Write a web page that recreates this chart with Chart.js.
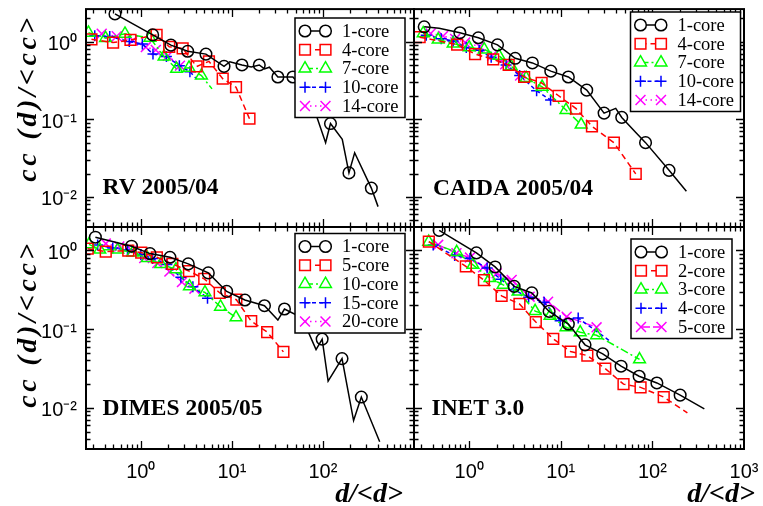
<!DOCTYPE html>
<html><head><meta charset="utf-8">
<script src="https://cdn.jsdelivr.net/npm/chart.js@4.4.1/dist/chart.umd.min.js"></script>
<style>
html,body{margin:0;padding:0;background:#fff;}
#wrap{position:relative;width:763px;height:506px;overflow:hidden;}
canvas{position:absolute;left:0;top:0;}
</style></head><body>
<div id="wrap">
<canvas id="p0" width="763" height="506"></canvas>
<canvas id="p1" width="763" height="506"></canvas>
<canvas id="p2" width="763" height="506"></canvas>
<canvas id="p3" width="763" height="506"></canvas>
</div>
<script>
// ---------------- tick labels ----------------
const X_TICK_VALUES = [1, 10, 100, 1000];
const X_TICK_LABELS = ['10\u2070', '10\u00B9', '10\u00B2', '10\u00B3'];
const Y_TICK_VALUES = [0.01, 0.1, 1];
const Y_TICK_LABELS = ['10\u207B\u00B2', '10\u207B\u00B9', '10\u2070'];

// ---------------- RV 2005/04 ----------------
const rvNames = ['1-core', '4-core', '7-core', '10-core', '14-core'];
const rv1X = [0.52, 1.35, 2.14, 3.27, 5.19, 8.2, 9.5, 12.9, 16.3, 20.0, 22.8, 25.8, 32.0, 46.8, 72, 107, 121, 163, 193, 223, 340, 403];
const rv1Y = [2.27, 1.22, 0.90, 0.75, 0.69, 0.48, 0.55, 0.50, 0.47, 0.50, 0.445, 0.468, 0.35, 0.35, 0.195, 0.050, 0.088, 0.055, 0.0204, 0.037, 0.013, 0.0075];
const rv1Sym = [1,1,1,1,1,1,0,1,0,1,0,0,1,1,1,0,1,0,1,0,1,0];
const rv4X = [0.287, 0.496, 0.77, 1.49, 2.05, 2.88, 4.10, 5.6, 7.93, 11.1, 15.6];
const rv4Y = [1.07, 0.97, 1.05, 1.22, 0.857, 0.82, 0.478, 0.557, 0.333, 0.259, 0.1016];
const rv7X = [0.266, 0.41, 0.67, 1.26, 1.80, 2.47, 3.38, 4.63, 6.05];
const rv7Y = [1.30, 1.11, 1.26, 1.12, 0.64, 0.445, 0.46, 0.365, 0.246];
const rv7Sym = [1,1,1,1,1,1,1,1,0];
const rv10X = [0.312, 0.456, 0.747, 1.04, 1.36, 1.91, 2.65, 3.46, 4.1];
const rv10Y = [1.19, 1.16, 1.0, 0.93, 0.69, 0.645, 0.49, 0.41, 0.33];
const rv10Sym = [1,1,1,1,1,1,1,1,0];
const rv14X = [0.372, 0.544, 0.817, 1.135, 1.46, 1.98, 2.69];
const rv14Y = [1.26, 1.17, 1.03, 0.85, 0.78, 0.655, 0.49];

// ---------------- CAIDA 2005/04 ----------------
const caNames = ['1-core', '4-core', '7-core', '10-core', '14-core'];
const ca1X = [0.323, 0.47, 0.792, 1.26, 2.04, 3.18, 4.90, 7.78, 12.1, 19.2, 29.7, 39.8, 46.3, 66.3, 84.2, 152, 235];
const ca1Y = [1.55, 1.48, 1.30, 1.12, 0.908, 0.609, 0.531, 0.416, 0.35, 0.237, 0.120, 0.138, 0.1056, 0.067, 0.050, 0.022, 0.0118];
const ca1Sym = [1,0,1,1,1,1,1,1,1,1,1,0,1,0,1,1,0];
const ca4X = [0.288, 0.74, 1.16, 1.83, 2.70, 3.98, 6.18, 9.47, 14.7, 21.9, 38.0, 65.8];
const ca4Y = [1.14, 0.916, 0.69, 0.59, 0.50, 0.35, 0.293, 0.2006, 0.137, 0.081, 0.0499, 0.0198];
const ca7X = [0.315, 0.459, 0.669, 1.0, 1.46, 2.12, 2.87, 4.19, 6.26, 11.4, 16.7];
const ca7Y = [1.28, 1.06, 0.943, 0.84, 0.79, 0.655, 0.482, 0.34, 0.261, 0.1315, 0.0853];
const ca10X = [0.34, 0.495, 0.669, 0.93, 1.29, 1.74, 2.53, 3.56, 5.45, 7.74];
const ca10Y = [1.21, 1.09, 1.02, 0.84, 0.776, 0.627, 0.50, 0.367, 0.232, 0.177];
const ca14X = [0.38, 0.52, 0.703, 0.904, 1.30, 1.78, 2.47, 3.60];
const ca14Y = [1.27, 1.18, 1.08, 0.971, 0.865, 0.659, 0.51, 0.365];

// ---------------- DIMES 2005/05 ----------------
const diNames = ['1-core', '5-core', '10-core', '15-core', '20-core'];
const di1X = [0.317, 0.79, 1.26, 2.09, 3.32, 5.51, 8.77, 13.9, 22.8, 32.0, 37.8, 59, 84, 98, 114, 162, 217, 264, 420];
const di1Y = [1.47, 1.13, 0.91, 0.817, 0.673, 0.517, 0.301, 0.234, 0.198, 0.130, 0.180, 0.139, 0.055, 0.0746, 0.0219, 0.0422, 0.0069, 0.0137, 0.0037];
const di1Sym = [1,1,1,1,1,1,1,1,1,0,1,1,0,1,0,1,0,1,0];
const di5X = [0.261, 0.412, 0.728, 1.01, 1.50, 2.22, 3.38, 4.97, 7.35, 11.2, 16.3, 24.4, 36.8];
const di5Y = [1.05, 0.965, 0.99, 0.937, 0.817, 0.673, 0.545, 0.435, 0.288, 0.236, 0.126, 0.0918, 0.0514];
const di10X = [0.27, 0.354, 0.558, 0.817, 1.18, 1.66, 2.43, 3.42, 5.06, 7.50, 11.1];
const di10Y = [1.19, 1.02, 1.02, 0.937, 0.798, 0.669, 0.573, 0.348, 0.292, 0.192, 0.1406];
const di15X = [0.336, 0.492, 0.714, 1.0, 1.35, 1.93, 2.75, 3.73, 5.40];
const di15Y = [1.17, 1.07, 1.01, 0.884, 0.79, 0.66, 0.454, 0.346, 0.247];
const di20X = [0.412, 0.58, 0.796, 1.09, 1.52, 2.06, 2.83, 3.88];
const di20Y = [1.22, 1.12, 0.994, 0.798, 0.689, 0.537, 0.395, 0.326];

// ---------------- INET 3.0 ----------------
const inNames = ['1-core', '2-core', '3-core', '4-core', '5-core'];
const in1X = [0.471, 1.20, 1.92, 3.10, 4.83, 7.46, 12.1, 18.4, 28.7, 45.5, 71.6, 112, 201, 369];
const in1Y = [1.79, 0.93, 0.616, 0.349, 0.288, 0.1677, 0.116, 0.0631, 0.0485, 0.0338, 0.0252, 0.0207, 0.0145, 0.0097];
const in1Sym = [1,1,1,1,1,1,1,1,1,1,1,1,1,0];
const in2X = [0.363, 0.92, 1.45, 2.26, 3.54, 5.34, 8.28, 12.8, 19.5, 30.6, 48.4, 74.3, 133, 241];
const in2Y = [1.29, 0.625, 0.418, 0.264, 0.209, 0.123, 0.0752, 0.0518, 0.0461, 0.0315, 0.020, 0.0182, 0.0137, 0.0086];
const in2Sym = [1,1,1,1,1,1,1,1,1,1,1,1,1,0];
const in3X = [0.362, 0.731, 1.10, 1.69, 2.35, 3.42, 5.25, 7.65, 11.4, 16.3, 24.6, 72.4];
const in3Y = [1.28, 0.951, 0.654, 0.444, 0.365, 0.299, 0.169, 0.1476, 0.1054, 0.091, 0.0834, 0.0412];
const in4X = [0.405, 0.695, 1.02, 1.57, 2.21, 3.06, 4.46, 6.58, 9.84, 15.5, 35.4];
const in4Y = [1.17, 0.859, 0.787, 0.595, 0.431, 0.317, 0.254, 0.219, 0.1276, 0.138, 0.0689];
const in4Sym = [1,1,1,1,1,1,1,1,1,1,0];
const in5X = [0.459, 0.727, 1.02, 1.42, 2.0, 2.91, 4.57, 7.27, 11.6, 24.6];
const in5Y = [1.175, 0.918, 0.81, 0.609, 0.511, 0.422, 0.258, 0.223, 0.1435, 0.1054];

// ---------------- styles ----------------
const ST = {
  k:  {color:'#000000', point:'circle',   r:5.8, dash:[]},
  r:  {color:'#ff0000', point:'rect',     r:7.6, dash:[6,4]},
  g:  {color:'#00ff00', point:'triangle', r:6.8, dash:[8,3,2,3]},
  b:  {color:'#0000ff', point:'cross',    r:5.5, dash:[4,3]},
  m:  {color:'#ff00ff', point:'crossRot', r:7.0, dash:[1.5,3.5]},
  mL: {color:'#ff00ff', point:'crossRot', r:7.0, dash:[9,3]}
};
const SERIF = '"Liberation Serif", "Times New Roman", serif';
const SANS = '"Liberation Sans", Arial, sans-serif';

function series(name, xs, ys, sym, st) {
  return {
    label: name,
    data: xs.map((x, i) => ({x: x, y: ys[i]})),
    borderColor: st.color, backgroundColor: 'rgba(0,0,0,0)',
    borderWidth: 1.5, borderDash: st.dash, tension: 0, fill: false,
    pointStyle: st.point,
    pointRadius: xs.map((_, i) => (sym ? sym[i] : 1) ? st.r : 0),
    pointHoverRadius: xs.map((_, i) => (sym ? sym[i] : 1) ? st.r : 0),
    pointBorderColor: st.color, pointBackgroundColor: 'rgba(0,0,0,0)',
    pointBorderWidth: 1.5, _st: st
  };
}

const PANELS = {
  p0: {area:{l:86,t:6,r:414,b:227}, yr:[0.0041,2.62], xLab:false, yLab:true, xMaxLab:100,
       legend:{x:295,y:18,w:110,h:99.5}, label:'RV 2005/04', labelPos:[102.5,193.5], yTitle:98, xTitle:null,
       ds:[series(rvNames[0],rv1X,rv1Y,rv1Sym,ST.k), series(rvNames[1],rv4X,rv4Y,null,ST.r), series(rvNames[2],rv7X,rv7Y,rv7Sym,ST.g), series(rvNames[3],rv10X,rv10Y,rv10Sym,ST.b), series(rvNames[4],rv14X,rv14Y,null,ST.m)]},
  p1: {area:{l:414,t:6,r:744,b:227}, yr:[0.0041,2.62], xLab:false, yLab:false, xMaxLab:1000,
       legend:{x:630.5,y:12,w:110,h:99.5}, label:'CAIDA 2005/04', labelPos:[433,194.5], yTitle:null, xTitle:null,
       ds:[series(caNames[0],ca1X,ca1Y,ca1Sym,ST.k), series(caNames[1],ca4X,ca4Y,null,ST.r), series(caNames[2],ca7X,ca7Y,null,ST.g), series(caNames[3],ca10X,ca10Y,null,ST.b), series(caNames[4],ca14X,ca14Y,null,ST.m)]},
  p2: {area:{l:86,t:227,r:414,b:449}, yr:[0.003,1.98], xLab:true, yLab:true, xMaxLab:100,
       legend:{x:295,y:233.5,w:110,h:99.5}, label:'DIMES 2005/05', labelPos:[102.5,414.5], yTitle:324, xTitle:403,
       ds:[series(diNames[0],di1X,di1Y,di1Sym,ST.k), series(diNames[1],di5X,di5Y,null,ST.r), series(diNames[2],di10X,di10Y,null,ST.g), series(diNames[3],di15X,di15Y,null,ST.b), series(diNames[4],di20X,di20Y,null,ST.m)]},
  p3: {area:{l:414,t:227,r:744,b:449}, yr:[0.003,1.98], xLab:true, yLab:false, xMaxLab:1000,
       legend:{x:631,y:239,w:101,h:99.5}, label:'INET 3.0', labelPos:[431.5,414.5], yTitle:null, xTitle:755,
       ds:[series(inNames[0],in1X,in1Y,in1Sym,ST.k), series(inNames[1],in2X,in2Y,in2Sym,ST.r), series(inNames[2],in3X,in3Y,null,ST.g), series(inNames[3],in4X,in4Y,in4Sym,ST.b), series(inNames[4],in5X,in5Y,null,ST.mL)]}
};

const panelPlugin = {
  id: 'panelDecor',
  afterDatasetsDraw(chart) {
    const P = PANELS[chart.canvas.id];
    const ctx = chart.ctx, a = chart.chartArea, xs = chart.scales.x, ys = chart.scales.y;
    ctx.save();
    ctx.setLineDash([]);
    ctx.strokeStyle = '#000'; ctx.lineWidth = 1.3;
    ctx.beginPath();
    for (let e = -1; e <= 3; e++) for (let m = 1; m <= 9; m++) {
      const v = m * Math.pow(10, e);
      if (v > xs.min * 1.0001 && v < xs.max * 0.9999) {
        const px = Math.round(xs.getPixelForValue(v)) + 0.5, len = m === 1 ? 8 : 4.5;
        ctx.moveTo(px, a.top); ctx.lineTo(px, a.top + len);
        ctx.moveTo(px, a.bottom); ctx.lineTo(px, a.bottom - len);
      }
    }
    for (let e = -3; e <= 1; e++) for (let m = 1; m <= 9; m++) {
      const v = m * Math.pow(10, e);
      if (v > ys.min * 1.0001 && v < ys.max * 0.9999) {
        const py = Math.round(ys.getPixelForValue(v)) + 0.5, len = m === 1 ? 8 : 4.5;
        ctx.moveTo(a.left, py); ctx.lineTo(a.left + len, py);
        ctx.moveTo(a.right, py); ctx.lineTo(a.right - len, py);
      }
    }
    ctx.stroke();
    ctx.lineWidth = 2;
    ctx.strokeRect(a.left, a.top, a.right - a.left, a.bottom - a.top);

    // legend
    const L = P.legend;
    ctx.fillStyle = '#fff'; ctx.fillRect(L.x, L.y, L.w, L.h);
    ctx.strokeStyle = '#000'; ctx.lineWidth = 1.5; ctx.strokeRect(L.x, L.y, L.w, L.h);
    chart.data.datasets.forEach((d, i) => {
      const st = d._st, cy = L.y + 13 + i * 18.75, x1 = L.x + 10, x2 = L.x + 30.5;
      ctx.strokeStyle = st.color; ctx.lineWidth = 1.5; ctx.setLineDash(st.dash);
      ctx.beginPath(); ctx.moveTo(x1, cy); ctx.lineTo(x2, cy); ctx.stroke();
      ctx.setLineDash([]);
      ctx.fillStyle = '#fff';
      [x1, x2].forEach(px => Chart.helpers.drawPoint(ctx, {pointStyle: st.point, radius: st.r, rotation: 0, borderWidth: 1.5}, px, cy));
      ctx.fillStyle = '#000'; ctx.font = '18.5px ' + SERIF; ctx.textBaseline = 'middle'; ctx.textAlign = 'left';
      ctx.fillText(d.label, L.x + 47, cy + 1);
    });

    // panel label
    ctx.fillStyle = '#000'; ctx.textBaseline = 'alphabetic'; ctx.textAlign = 'left';
    ctx.font = 'bold 23.5px ' + SERIF;
    ctx.fillText(P.label, P.labelPos[0], P.labelPos[1]);

    // axis titles
    ctx.font = 'italic bold 28px ' + SERIF;
    if (P.yTitle !== null) {
      ctx.save(); ctx.translate(36, P.yTitle); ctx.rotate(-Math.PI / 2);
      ctx.letterSpacing = '3.5px';
      ctx.textAlign = 'center'; ctx.fillText('cc (d)/<cc>', 0, 0); ctx.restore();
    }
    if (P.xTitle !== null) {
      ctx.textAlign = 'right'; ctx.fillText('d/<d>', P.xTitle, 502);
    }
    ctx.restore();
  }
};

const Y_AXIS_W = 70, X_AXIS_H = 45;

Object.keys(PANELS).forEach(id => {
  const P = PANELS[id];
  const yW = P.yLab ? Y_AXIS_W : 0;
  const xH = P.xLab ? X_AXIS_H : 0;
  new Chart(document.getElementById(id), {
    type: 'line',
    data: {datasets: P.ds},
    options: {
      responsive: false, animation: false, devicePixelRatio: 1,
      events: [],
      layout: {padding: {left: P.area.l - yW, top: P.area.t, right: 763 - P.area.r, bottom: 506 - P.area.b - xH}},
      plugins: {legend: {display: false}, tooltip: {enabled: false}, title: {display: false}},
      scales: {
        x: {
          type: 'logarithmic', position: 'bottom', min: 0.25, max: 1000,
          afterBuildTicks: s => { s.ticks = X_TICK_VALUES.filter(v => v <= P.xMaxLab).map(v => ({value: v})); },
          afterFit: s => { s.height = xH; s.paddingLeft = 0; s.paddingRight = 0; s.paddingTop = 0; s.paddingBottom = 0; },
          grid: {display: false, drawTicks: false}, border: {display: false},
          ticks: {display: P.xLab, autoSkip: false, maxRotation: 0, minRotation: 0, padding: 11, color: '#000',
                  font: {family: SANS, size: 20},
                  callback: v => X_TICK_LABELS[X_TICK_VALUES.indexOf(v)] || ''}
        },
        y: {
          type: 'logarithmic', position: 'left', min: P.yr[0], max: P.yr[1],
          afterBuildTicks: s => { s.ticks = Y_TICK_VALUES.map(v => ({value: v})); },
          afterFit: s => { s.width = yW; s.paddingLeft = 0; s.paddingRight = 0; s.paddingTop = 0; s.paddingBottom = 0; },
          grid: {display: false, drawTicks: false}, border: {display: false},
          ticks: {display: P.yLab, autoSkip: false, padding: 9, labelOffset: 3, color: '#000',
                  font: {family: SANS, size: 20},
                  callback: v => Y_TICK_LABELS[Y_TICK_VALUES.indexOf(v)] || ''}
        }
      }
    },
    plugins: [panelPlugin]
  });
});
</script>
</body></html>
